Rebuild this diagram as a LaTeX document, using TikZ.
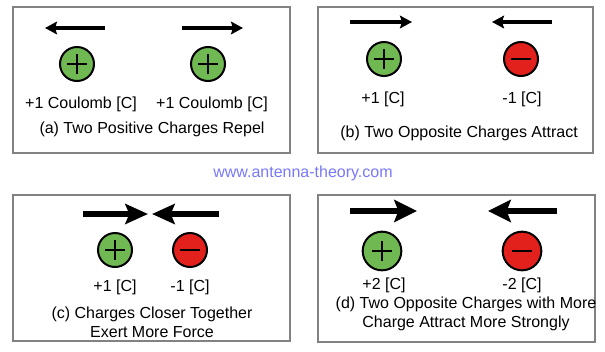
\documentclass[tikz,border=0pt]{standalone}
\usepackage{fontspec}
\setmainfont{Liberation Sans}
\usetikzlibrary{arrows.meta}
\definecolor{chgreen}{RGB}{112,184,82}
\definecolor{chred}{RGB}{226,32,28}
\definecolor{webblue}{RGB}{120,120,250}
\definecolor{framegray}{RGB}{130,130,130}

\begin{document}
\begin{tikzpicture}[x=0.75pt, y=-0.75pt, font=\fontsize{12}{14.25}\selectfont]
                \tikzstyle{panel} = [draw=framegray, line width=0.9pt]
                \tikzstyle{charge} = [circle, draw, line width=1.5pt, minimum size=25.5pt, inner sep=0pt]
                \tikzstyle{poscharge} = [charge, fill=chgreen, path picture={
                    \draw[line width=1.4pt] ([xshift=-7.5pt]path picture bounding box.center) -- ([xshift=7.5pt]path picture bounding box.center)
                        ([yshift=-7.5pt]path picture bounding box.center) -- ([yshift=7.5pt]path picture bounding box.center);}]
                \tikzstyle{negcharge} = [charge, fill=chred, path picture={
                    \draw[line width=1.4pt] ([xshift=-7.5pt]path picture bounding box.center) -- ([xshift=7.5pt]path picture bounding box.center);}]
                \tikzstyle{bigcharge} = [minimum size=29pt]
                \tikzstyle{qlabel} = [anchor=base, inner sep=0pt]
                \tikzstyle{captiontext} = [anchor=base, inner sep=0pt, align=center]
                \tikzstyle{force} = [line width=2.6pt, -{Stealth[length=9pt, width=9.5pt, inset=1.5pt]}]
                \tikzstyle{bigforce} = [line width=3.8pt, -{Stealth[length=17pt, width=15pt, inset=3pt]}]
                \tikzstyle{biggerforce} = [line width=4.5pt, -{Stealth[length=17pt, width=16.5pt, inset=3pt]}]

                \useasboundingbox (0,0) rectangle (605,351);

                % frames
                \draw [panel] (13,7) rectangle (290,153);
                \draw [panel] (318,7) rectangle (593,153);
                \draw [panel] (13,195) rectangle (290,341);
                \draw [panel] (318,195) rectangle (595,342);

                % (a) two positive charges
                \node (qa1) [poscharge] at (77,64) {};
                \node (qa2) [poscharge] at (208,64) {};
                \coordinate (fa1) at (105,28);
                \coordinate (ta1) at (45,28);
                \coordinate (fa2) at (182,28);
                \coordinate (ta2) at (243,28);
                \draw [force] (fa1) -- (ta1);
                \draw [force] (fa2) -- (ta2);
                \node (la1) [qlabel] at (81,108) {+1 Coulomb [C]};
                \node (la2) [qlabel] at (212,108) {+1 Coulomb [C]};
                \node (capa) [captiontext] at (152,133) {(a) Two Positive Charges Repel};

                % (b) opposite charges
                \node (qb1) [poscharge] at (384,59) {};
                \node (qb2) [negcharge] at (521,59) {};
                \coordinate (fb1) at (350,22);
                \coordinate (tb1) at (412,22);
                \coordinate (fb2) at (552,22);
                \coordinate (tb2) at (492,22);
                \draw [force] (fb1) -- (tb1);
                \draw [force] (fb2) -- (tb2);
                \node (lb1) [qlabel] at (383,103) {+1 [C]};
                \node (lb2) [qlabel] at (522,103) {-1 [C]};
                \node (capb) [captiontext] at (459,137) {(b) Two Opposite Charges Attract};

                % (c) closer together
                \node (qc1) [poscharge] at (115,250) {};
                \node (qc2) [negcharge] at (190,250) {};
                \coordinate (fc1) at (83,214);
                \coordinate (tc1) at (148,214);
                \coordinate (fc2) at (219,214);
                \coordinate (tc2) at (152,214);
                \draw [bigforce] (fc1) -- (tc1);
                \draw [bigforce] (fc2) -- (tc2);
                \node (lc1) [qlabel] at (115,291) {+1 [C]};
                \node (lc2) [qlabel] at (190,291) {-1 [C]};
                \node (capc) [captiontext] at (152,337) {(c) Charges Closer Together\\Exert More Force};

                % (d) more charge
                \node (qd1) [poscharge, bigcharge] at (382,251) {};
                \node (qd2) [negcharge, bigcharge] at (522,251) {};
                \coordinate (fd1) at (350,211);
                \coordinate (td1) at (417,211);
                \coordinate (fd2) at (557,211);
                \coordinate (td2) at (488,211);
                \draw [biggerforce] (fd1) -- (td1);
                \draw [biggerforce] (fd2) -- (td2);
                \node (ld1) [qlabel] at (384,289) {+2 [C]};
                \node (ld2) [qlabel] at (522,289) {-2 [C]};
                \node (capd) [captiontext] at (466,327) {(d) Two Opposite Charges with More\\Charge Attract More Strongly};

                \node (web) [qlabel, text=webblue] at (303,177) {www.antenna-theory.com};
            \end{tikzpicture}
\end{document}
